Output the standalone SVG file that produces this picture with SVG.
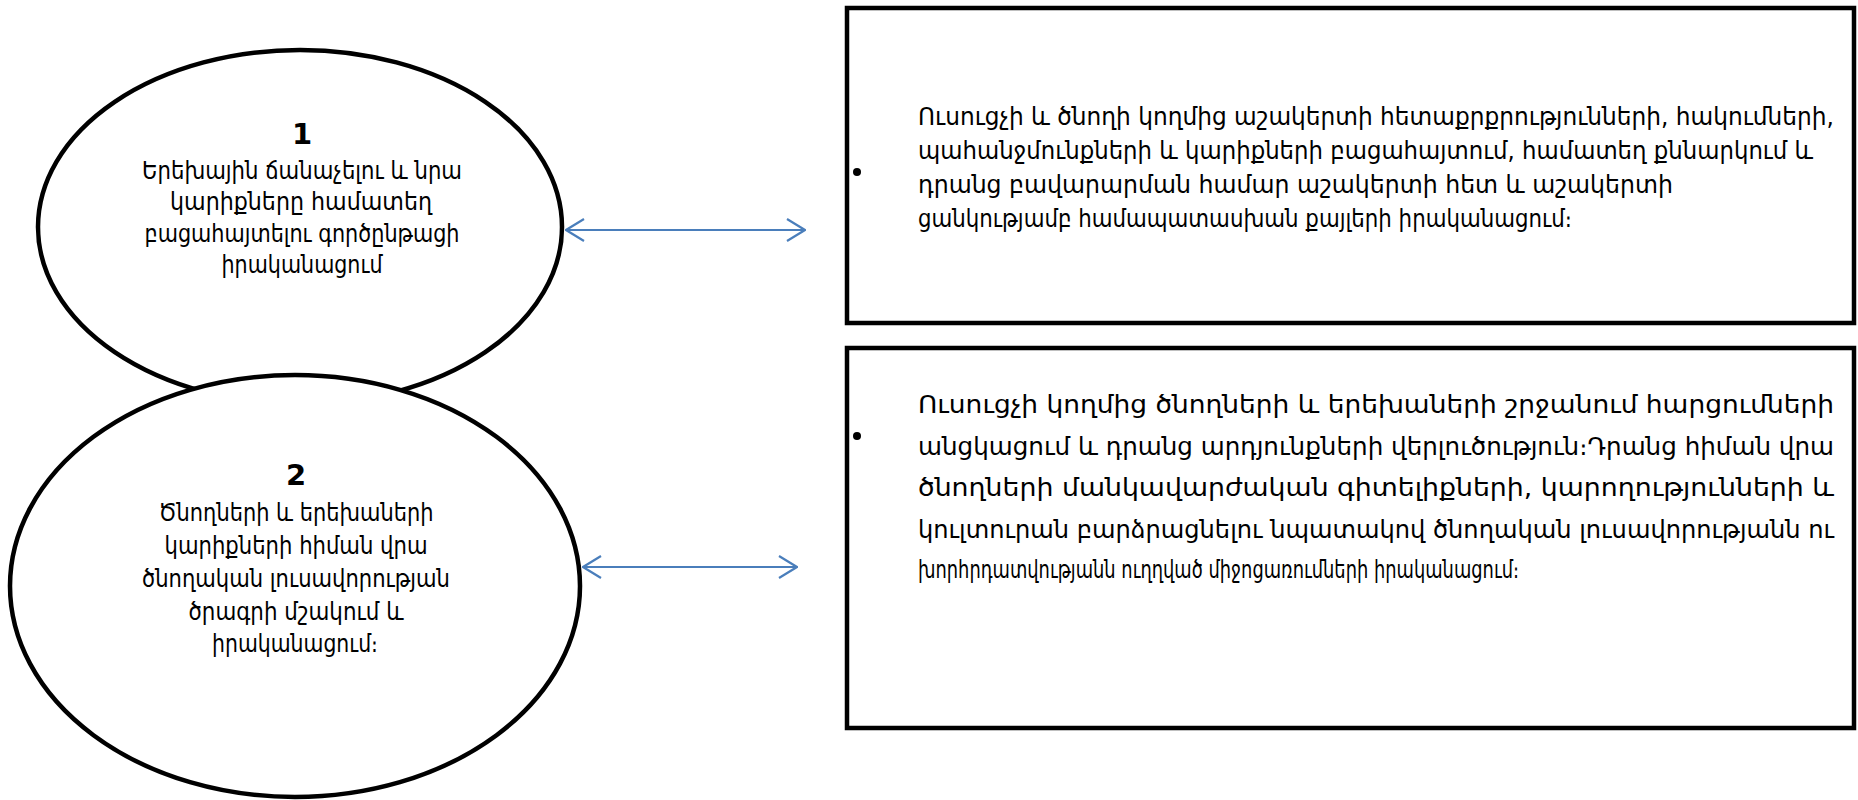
<svg xmlns="http://www.w3.org/2000/svg" width="1858" height="800" viewBox="0 0 1858 800">
<style>
.shape{fill:#fff;stroke:#000;stroke-width:4.5}
.t{font-family:"DejaVu Sans","Noto Sans",sans-serif;font-size:24px;fill:#000}
.n{font-family:"DejaVu Sans","Liberation Sans",sans-serif;font-size:29px;font-weight:bold;fill:#000;text-anchor:middle}
.c{text-anchor:middle}
.link{stroke:#4a7ebb;stroke-width:2.2;fill:none}
</style>
<defs>
<marker id="arr" viewBox="0 0 20 24" refX="19" refY="12" markerWidth="20" markerHeight="24" markerUnits="userSpaceOnUse" orient="auto-start-reverse">
<path d="M1,1 L19,12 L1,23" fill="none" stroke="#4a7ebb" stroke-width="2.2"/>
</marker>
</defs>
<g id="node-e1">
<ellipse class="shape" cx="300" cy="227" rx="262" ry="177"/>
<text class="n" x="302" y="144">1</text>
<text class="t c" x="302" y="179" textLength="320" lengthAdjust="spacingAndGlyphs">Երեխային ճանաչելու և  նրա</text>
<text class="t c" x="301" y="210" textLength="262" lengthAdjust="spacingAndGlyphs">կարիքները  համատեղ</text>
<text class="t c" x="302" y="242" textLength="315" lengthAdjust="spacingAndGlyphs">բացահայտելու գործընթացի</text>
<text class="t c" x="302" y="273" textLength="161" lengthAdjust="spacingAndGlyphs">իրականացում</text>
</g>
<g id="node-e2">
<ellipse class="shape" cx="295" cy="586" rx="285" ry="211"/>
<text class="n" x="296" y="485">2</text>
<text class="t c" x="296" y="521" textLength="275" lengthAdjust="spacingAndGlyphs">Ծնողների և երեխաների</text>
<text class="t c" x="296" y="554" textLength="263" lengthAdjust="spacingAndGlyphs">կարիքների հիման վրա</text>
<text class="t c" x="296" y="587" textLength="308" lengthAdjust="spacingAndGlyphs">ծնողական  լուսավորության</text>
<text class="t c" x="296" y="620" textLength="215" lengthAdjust="spacingAndGlyphs">ծրագրի  մշակում և</text>
<text class="t c" x="295" y="652" textLength="166" lengthAdjust="spacingAndGlyphs">իրականացում։</text>
</g>
<g id="node-r1">
<rect class="shape" x="847" y="8" width="1007" height="315"/>
<circle cx="857" cy="172" r="4" fill="#000"/>
<text class="t" x="918" y="125" textLength="916" lengthAdjust="spacingAndGlyphs">Ուսուցչի և ծնողի կողմից աշակերտի  հետաքրքրությունների, հակումների,</text>
<text class="t" x="918" y="159" textLength="895" lengthAdjust="spacingAndGlyphs">պահանջմունքների և կարիքների բացահայտում, համատեղ քննարկում և</text>
<text class="t" x="918" y="193" textLength="755" lengthAdjust="spacingAndGlyphs">դրանց բավարարման համար աշակերտի հետ  և  աշակերտի</text>
<text class="t" x="918" y="227" textLength="654" lengthAdjust="spacingAndGlyphs">ցանկությամբ համապատասխան քայլերի իրականացում։</text>
</g>
<g id="node-r2">
<rect class="shape" x="847" y="348" width="1007" height="380"/>
<circle cx="857" cy="436" r="4" fill="#000"/>
<text class="t" x="918" y="413" textLength="916" lengthAdjust="spacingAndGlyphs">Ուսուցչի  կողմից ծնողների և երեխաների  շրջանում հարցումների</text>
<text class="t" x="918" y="455" textLength="916" lengthAdjust="spacingAndGlyphs">անցկացում և դրանց արդյունքների վերլուծություն։Դրանց հիման վրա</text>
<text class="t" x="918" y="496" textLength="916" lengthAdjust="spacingAndGlyphs">ծնողների  մանկավարժական գիտելիքների, կարողությունների և</text>
<text class="t" x="918" y="538" textLength="916" lengthAdjust="spacingAndGlyphs">կուլտուրան բարձրացնելու նպատակով ծնողական լուսավորությանն ու</text>
<text class="t" x="918" y="578" textLength="601" lengthAdjust="spacingAndGlyphs">խորհրդատվությանն ուղղված միջոցառումների  իրականացում։</text>
</g>
<g id="connectors">
<line class="link" x1="566" y1="230" x2="805" y2="230" marker-start="url(#arr)" marker-end="url(#arr)"/>
<line class="link" x1="583" y1="567" x2="797" y2="567" marker-start="url(#arr)" marker-end="url(#arr)"/>
</g>
</svg>
